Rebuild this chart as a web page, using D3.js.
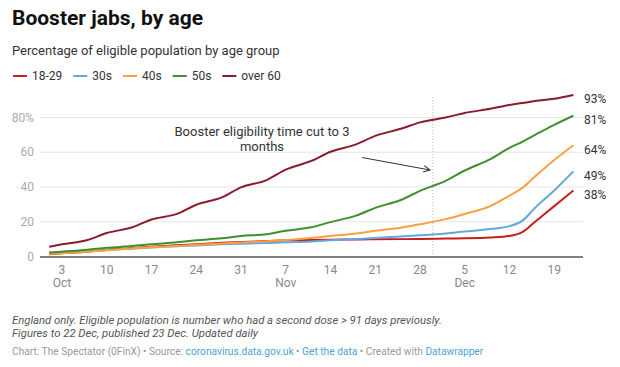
<!DOCTYPE html>
<html>
<head>
<meta charset="utf-8">
<script src="https://cdn.jsdelivr.net/npm/d3@7"></script>
<style>
  body { margin: 0; background: #fff; font-family: Roboto, "Noto Sans", sans-serif; }
  svg text { font-family: Roboto, "Noto Sans", sans-serif; }
</style>
</head>
<body>
<svg id="chart" width="620" height="367"></svg>
<script>
// dates the values were read at (2021)
const dates = ["10-01","10-03","10-07","10-10","10-14","10-17","10-21","10-24","10-28","10-31",
  "11-04","11-07","11-11","11-14","11-18","11-21","11-25","11-28",
  "12-02","12-05","12-09","12-12","12-14","12-16","12-19","12-22"];

const age18to29 = [1.3,1.8,2.8,3.8,4.8,5.6,6.5,7.1,7.9,8.4, 8.9,9.3,9.5,9.7,9.8,9.9,10.0,10.1, 10.3,10.5,11.0,11.8,14.0,20.0,29.0,38];
const age30s    = [1.8,2.2,3.0,3.8,4.6,5.2,5.9,6.4,7.0,7.4, 7.8,8.2,8.7,9.3,10.0,10.7,11.5,12.2, 13.3,14.4,15.8,17.5,20.5,28.0,38.0,49];
const age40s    = [1.5,1.9,2.8,3.6,4.6,5.3,6.1,6.7,7.5,8.1, 8.8,9.5,10.6,11.8,13.3,14.8,16.6,18.5, 21.5,24.5,29.0,35.0,39.5,46.0,55.5,64];
const age50s    = [2.3,2.8,3.9,5.0,6.0,7.0,8.2,9.3,10.5,11.8, 12.8,14.8,16.8,19.8,23.5,28.0,32.5,37.8, 43.5,49.5,56.0,62.5,66.0,70.0,75.8,81];
const over60    = [5.6,7.0,9.5,13.5,16.8,21.3,24.5,29.8,34.0,39.8, 44.0,50.0,55.0,60.3,64.5,69.4,73.5,77.2, 80.0,82.6,85.0,87.2,88.3,89.5,90.8,93];

const seriesNames = ["18-29","30s","40s","50s","over 60"];
const seriesColors = ["#c71e1d","#62a8dc","#f9a03f","#3f8f2f","#8a1c2e"];

const xTicks = ["10-03","10-10","10-17","10-24","10-31","11-07","11-14","11-21","11-28","12-05","12-12","12-19"];
const monthTicks = [["10-03","Oct"],["11-07","Nov"],["12-05","Dec"]];
const yTicks = [0,20,40,60,80];

const annotationDate = "11-30";

const parse = d3.timeParse("%Y-%m-%d");
const toDate = s => parse("2021-" + s);

const svg = d3.select("#chart");

var x = d3.scaleTime()
    .domain([toDate("10-01"), toDate("12-22")])
    .range([49.2, 573.4]);
var y = d3.scaleLinear()
    .domain([0, 80])
    .range([256.5, 117.5]);

const gridLeft = 40, gridRight = 583;

// header
svg.append("text").attr("x", 12).attr("y", 25)
    .attr("font-size", 21).attr("font-weight", 700).attr("fill", "#111")
    .text("Booster jabs, by age");
svg.append("text").attr("x", 12).attr("y", 55)
    .attr("font-size", 13).attr("fill", "#333")
    .text("Percentage of eligible population by age group");

// legend
var lx = 13;
seriesNames.forEach(function(name, i) {
  var g = svg.append("g").attr("transform", "translate(" + lx + ",76)");
  g.append("line").attr("x1", 0).attr("x2", 14).attr("y1", 0).attr("y2", 0)
    .attr("stroke", seriesColors[i]).attr("stroke-width", 2);
  var t = g.append("text").attr("x", 19).attr("y", 4.3)
    .attr("font-size", 12).attr("fill", "#333").text(name);
  lx += 19 + t.node().getComputedTextLength() + 11;
});

// grid
svg.append("g").selectAll("line")
  .data(yTicks.filter(d => d > 0))
  .enter().append("line")
    .attr("x1", gridLeft).attr("x2", gridRight)
    .attr("y1", d => y(d)).attr("y2", d => y(d))
    .attr("stroke", "#e6e6e6").attr("stroke-width", 1);

svg.append("g").selectAll("text")
  .data(yTicks)
  .enter().append("text")
    .attr("x", 34).attr("y", d => y(d) + 4)
    .attr("text-anchor", "end").attr("font-size", 12).attr("fill", "#aaa")
    .text(d => d === 80 ? d + "%" : d);

// annotation line
var ax = x(toDate(annotationDate));
svg.append("line")
    .attr("x1", ax).attr("x2", ax).attr("y1", 97).attr("y2", y(0))
    .attr("stroke", "#bbb").attr("stroke-width", 1).attr("stroke-dasharray", "1,2");

// x axis labels
svg.append("g").selectAll("text")
  .data(xTicks)
  .enter().append("text")
    .attr("x", d => x(toDate(d))).attr("y", 274)
    .attr("text-anchor", "middle").attr("font-size", 12).attr("fill", "#888")
    .text(d => +d.split("-")[1]);
svg.append("g").selectAll("text")
  .data(monthTicks)
  .enter().append("text")
    .attr("x", d => x(toDate(d[0]))).attr("y", 287)
    .attr("text-anchor", "middle").attr("font-size", 12).attr("fill", "#888")
    .text(d => d[1]);

// lines
var allSeries = [age18to29, age30s, age40s, age50s, over60];
var line = d3.line()
    .x((d, i) => x(toDate(dates[i])))
    .y(d => y(d))
    .curve(d3.curveMonotoneX);

svg.append("g").selectAll("path")
  .data(allSeries)
  .enter().append("path")
    .attr("d", d => line(d))
    .attr("fill", "none")
    .attr("stroke", (d, i) => seriesColors[i])
    .attr("stroke-width", 2)
    .attr("stroke-linejoin", "round");

// baseline
svg.append("line")
    .attr("x1", gridLeft).attr("x2", gridRight).attr("y1", y(0) + 0.5).attr("y2", y(0) + 0.5)
    .attr("stroke", "#555").attr("stroke-width", 1.5);

// end labels
svg.append("g").selectAll("text")
  .data(allSeries)
  .enter().append("text")
    .attr("x", 584)
    .attr("y", d => y(d[d.length - 1]) + 8.5)
    .attr("font-size", 12).attr("fill", "#333")
    .text(d => d[d.length - 1] + "%");

// annotation text and arrow
svg.append("defs").append("marker")
    .attr("id", "arr").attr("viewBox", "0 0 10 10")
    .attr("refX", 9).attr("refY", 5)
    .attr("markerWidth", 8).attr("markerHeight", 8)
    .attr("orient", "auto")
  .append("path")
    .attr("d", "M1,1 L9,5 L1,9")
    .attr("fill", "none").attr("stroke", "#333").attr("stroke-width", 1.2);

var note = svg.append("text").attr("text-anchor", "middle")
    .attr("font-size", 13).attr("fill", "#333");
note.append("tspan").attr("x", 262).attr("y", 136).text("Booster eligibility time cut to 3");
note.append("tspan").attr("x", 262).attr("y", 150.5).text("months");

svg.append("line")
    .attr("x1", 362).attr("y1", 157.5).attr("x2", 430).attr("y2", 170)
    .attr("stroke", "#333").attr("stroke-width", 1)
    .attr("marker-end", "url(#arr)");

// footer
var foot = svg.append("text").attr("font-size", 11.3).attr("font-style", "italic").attr("fill", "#555");
foot.append("tspan").attr("x", 12).attr("y", 323.5)
    .text("England only. Eligible population is number who had a second dose > 91 days previously.");
foot.append("tspan").attr("x", 12).attr("y", 337)
    .text("Figures to 22 Dec, published 23 Dec. Updated daily");

var credit = svg.append("text").attr("x", 12).attr("y", 355)
    .attr("font-size", 10.2).attr("fill", "#999");
credit.append("tspan").text("Chart: The Spectator (0FinX) \u2022 Source: ");
credit.append("tspan").attr("fill", "#4aa3d8").text("coronavirus.data.gov.uk");
credit.append("tspan").text(" \u2022 ");
credit.append("tspan").attr("fill", "#4aa3d8").text("Get the data");
credit.append("tspan").text(" \u2022 Created with ");
credit.append("tspan").attr("fill", "#4aa3d8").text("Datawrapper");
</script>
</body>
</html>
